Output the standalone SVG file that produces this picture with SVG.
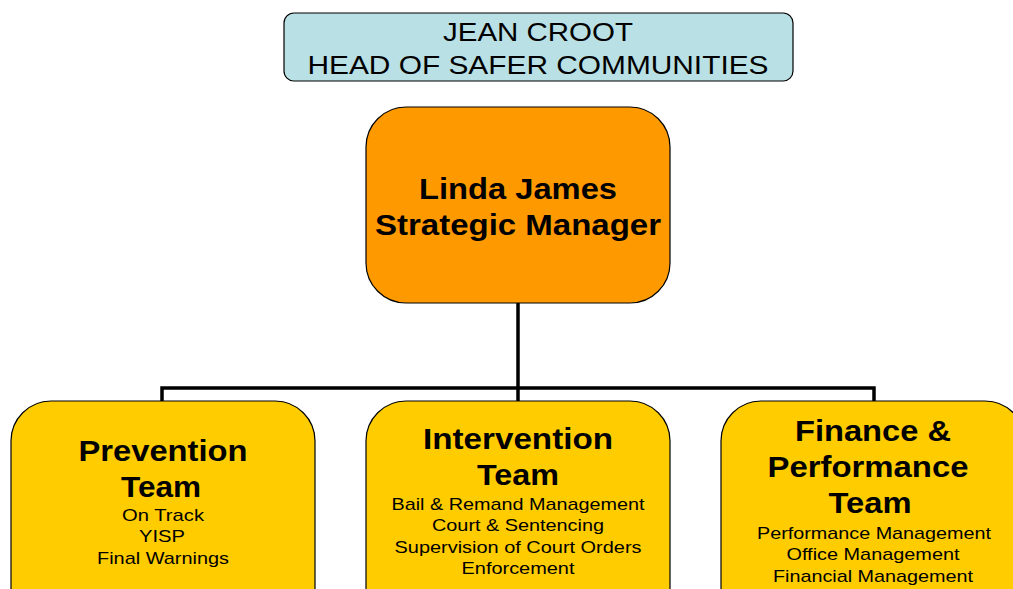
<svg xmlns="http://www.w3.org/2000/svg" width="1013" height="589" viewBox="0 0 1013 589">
  <style>
    .box { stroke: #000; stroke-width: 1.2; }
    .head { fill: #b9e0e4; }
    .mgr { fill: #ff9900; }
    .team { fill: #ffcc00; }
    text { font-family: "Liberation Sans", Arial, sans-serif; fill: #000; text-anchor: middle; }
    .t1 { font-size: 26px; }
    .tb { font-size: 29px; font-weight: bold; }
    .ts { font-size: 17px; }
    .conn { fill: none; stroke: #000; stroke-width: 3.5; }
  </style>
  <rect width="1013" height="589" fill="#fff"/>

  <g id="connectors">
    <path class="conn" d="M518 303 V388"/>
    <path class="conn" d="M162 401 V388 H874 V401"/>
    <path class="conn" d="M518 388 V401"/>
  </g>

  <g id="head">
    <rect class="box head" x="284" y="13" width="509" height="68" rx="10"/>
    <text class="t1" x="538" y="41" textLength="190" lengthAdjust="spacingAndGlyphs">JEAN CROOT</text>
    <text class="t1" x="538" y="74" textLength="461" lengthAdjust="spacingAndGlyphs">HEAD OF SAFER COMMUNITIES</text>
  </g>

  <g id="manager">
    <rect class="box mgr" x="366" y="107" width="304" height="196" rx="40"/>
    <text class="tb" x="518" y="199" textLength="198" lengthAdjust="spacingAndGlyphs">Linda James</text>
    <text class="tb" x="518" y="235" textLength="286" lengthAdjust="spacingAndGlyphs">Strategic Manager</text>
  </g>

  <g id="prevention">
    <rect class="box team" x="11" y="401" width="304" height="240" rx="40"/>
    <text class="tb" x="163" y="461" textLength="169" lengthAdjust="spacingAndGlyphs">Prevention</text>
    <text class="tb" x="161" y="497" textLength="80" lengthAdjust="spacingAndGlyphs">Team</text>
    <text class="ts" x="163" y="521" textLength="82" lengthAdjust="spacingAndGlyphs">On Track</text>
    <text class="ts" x="162" y="542" textLength="46" lengthAdjust="spacingAndGlyphs">YISP</text>
    <text class="ts" x="163" y="564" textLength="132" lengthAdjust="spacingAndGlyphs">Final Warnings</text>
  </g>

  <g id="intervention">
    <rect class="box team" x="366" y="401" width="304" height="240" rx="40"/>
    <text class="tb" x="518" y="449" textLength="190" lengthAdjust="spacingAndGlyphs">Intervention</text>
    <text class="tb" x="518" y="485" textLength="82" lengthAdjust="spacingAndGlyphs">Team</text>
    <text class="ts" x="518" y="510" textLength="253" lengthAdjust="spacingAndGlyphs">Bail &amp; Remand Management</text>
    <text class="ts" x="518" y="531" textLength="172" lengthAdjust="spacingAndGlyphs">Court &amp; Sentencing</text>
    <text class="ts" x="518" y="553" textLength="247" lengthAdjust="spacingAndGlyphs">Supervision of Court Orders</text>
    <text class="ts" x="518" y="574" textLength="113" lengthAdjust="spacingAndGlyphs">Enforcement</text>
  </g>

  <g id="finance">
    <rect class="box team" x="721" y="401" width="304" height="240" rx="40"/>
    <text class="tb" x="873" y="441" textLength="156" lengthAdjust="spacingAndGlyphs">Finance &amp;</text>
    <text class="tb" x="868" y="477" textLength="201" lengthAdjust="spacingAndGlyphs">Performance</text>
    <text class="tb" x="870" y="513" textLength="83" lengthAdjust="spacingAndGlyphs">Team</text>
    <text class="ts" x="874" y="539" textLength="234" lengthAdjust="spacingAndGlyphs">Performance Management</text>
    <text class="ts" x="873" y="560" textLength="173" lengthAdjust="spacingAndGlyphs">Office Management</text>
    <text class="ts" x="873" y="582" textLength="200" lengthAdjust="spacingAndGlyphs">Financial Management</text>
  </g>
</svg>
